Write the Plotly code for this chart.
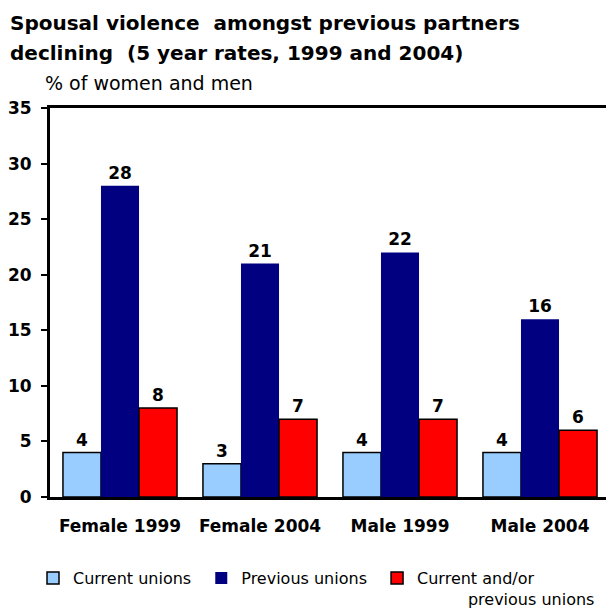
import plotly.graph_objects as go

# Data
categories = ["Female 1999", "Female 2004", "Male 1999", "Male 2004"]
current_unions = [4, 3, 4, 4]
previous_unions = [28, 21, 22, 16]
current_or_previous = [8, 7, 7, 6]

NB = "\u00a0" * 10
series_names = ["Current unions\u00a0", "Previous unions\u00a0", "Current and/or<br>" + NB + "previous unions"]
colors = ["#99ccff", "#000080", "#ff0000"]
outline = [1.5, 0, 1.5]

title_lines = ["Spousal violence  amongst previous partners",
               "declining  (5 year rates, 1999 and 2004)"]
subtitle = "% of women and men"

WIDE = "DejaVu Sans, Verdana, sans-serif"
PLOT_W = 556
PLOT_H = 389

fig = go.Figure()

for name, values, color, lw in zip(series_names, [current_unions, previous_unions, current_or_previous], colors, outline):
    fig.add_trace(go.Bar(
        x=categories,
        y=values,
        name=name,
        marker=dict(color=color, line=dict(color="black", width=lw)),
        text=values,
        textposition="outside",
        textfont=dict(family=WIDE, size=17, color="black", weight="bold"),
        cliponaxis=False,
    ))

fig.update_layout(
    width=606,
    height=611,
    margin=dict(l=50, r=0, t=108, b=114, autoexpand=False),
    plot_bgcolor="white",
    paper_bgcolor="white",
    barmode="group",
    bargap=0.185,
    bargroupgap=0,
    font=dict(family=WIDE, color="black"),
    showlegend=True,
    legend=dict(
        orientation="h",
        x=-17 / PLOT_W,
        xanchor="left",
        y=-0.165,
        yanchor="top",
        font=dict(family=WIDE, size=16, color="black"),
        itemwidth=30,
        tracegroupgap=0,
        traceorder="normal",
        valign="top",
    ),
)

fig.update_xaxes(
    range=[-0.5, -0.5 + PLOT_W / 140],
    automargin=False,
    showline=True,
    linecolor="black",
    linewidth=3,
    mirror=True,
    ticks="",
    ticklabelstandoff=12,
    tickfont=dict(family=WIDE, size=17, color="black", weight="bold"),
)

fig.update_yaxes(
    range=[0, 35],
    dtick=5,
    automargin=False,
    showgrid=False,
    zeroline=False,
    showline=True,
    linecolor="black",
    linewidth=3,
    ticks="outside",
    ticklen=6,
    tickwidth=2,
    tickcolor="black",
    ticklabelstandoff=6,
    tickfont=dict(family=WIDE, size=17, color="black", weight="bold"),
)

# title, one annotation per line to get the wider line spacing
for line, top in zip(title_lines, [23, 53]):
    fig.add_annotation(
        text="<b>" + line + "</b>",
        xref="paper", yref="paper", x=-42 / PLOT_W, y=1 + (108 - top) / PLOT_H,
        xanchor="left", yanchor="middle", align="left", showarrow=False,
        font=dict(family=WIDE, size=20, color="black"),
    )
fig.add_annotation(
    text=subtitle,
    xref="paper", yref="paper", x=-7 / PLOT_W, y=1 + 25 / PLOT_H,
    xanchor="left", yanchor="middle", align="left", showarrow=False,
    font=dict(family=WIDE, size=19, color="black"),
)

# page body has a default 8px margin, drop it so the figure fills the window
fig.write_html("out.html", config={"displayModeBar": False},
               post_script="document.body.style.margin='0';")
